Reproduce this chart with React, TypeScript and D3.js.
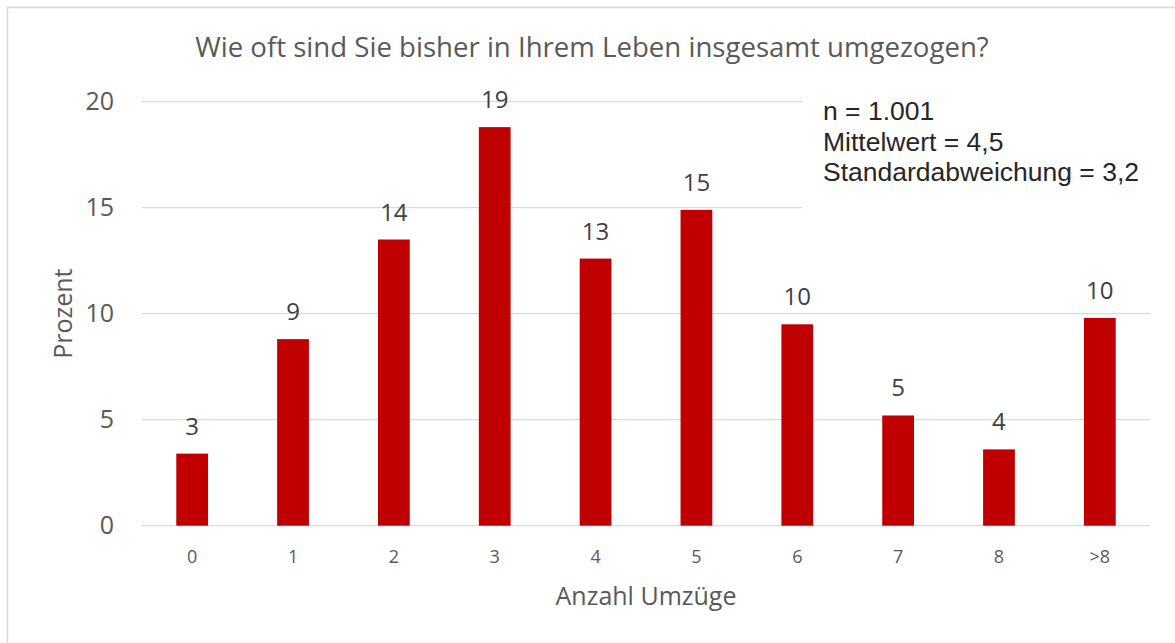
import * as d3 from "d3";
import { useEffect, useRef } from "react";

const categories = ["0", "1", "2", "3", "4", "5", "6", "7", "8", ">8"];
const percentValues = [3.4, 8.8, 13.5, 18.8, 12.6, 14.9, 9.5, 5.2, 3.6, 9.8];
const valueLabels = ["3", "9", "14", "19", "13", "15", "10", "5", "4", "10"];
const yTicks = [0, 5, 10, 15, 20];
const statsLines = ["n = 1.001", "Mittelwert = 4,5", "Standardabweichung = 3,2"];

export default function App() {
  const svgRef = useRef<SVGSVGElement>(null);
  const width = 1175;
  const height = 643;

  useEffect(() => {
    if (!svgRef.current) return;
    const svg = d3.select(svgRef.current);
    svg.selectAll("*").remove();

    const left = 142, right = 1150, top = 101.7, bottom = 525.7;
    const font = "Open Sans, Lato, sans-serif";

    const x = d3.scaleBand().domain(categories).range([left, right]).paddingInner(0.685).paddingOuter(0.34);
    const y = d3.scaleLinear().domain([0, 20]).range([bottom, top]);

    // chart frame (cropped on right/bottom)
    svg.append("rect")
      .attr("x", 7.5).attr("y", 7.5)
      .attr("width", 1200).attr("height", 700)
      .attr("fill", "white")
      .attr("stroke", "#d9d9d9")
      .attr("stroke-width", 1.5);

    // gridlines
    svg.append("g")
      .selectAll("line")
      .data(yTicks)
      .join("line")
      .attr("x1", left).attr("x2", right)
      .attr("y1", d => y(d)).attr("y2", d => y(d))
      .attr("stroke", "#d9d9d9")
      .attr("stroke-width", 1.3);

    // y tick labels
    svg.append("g")
      .selectAll("text")
      .data(yTicks)
      .join("text")
      .attr("x", 114)
      .attr("y", d => y(d))
      .attr("dy", "0.35em")
      .attr("text-anchor", "end")
      .attr("font-family", font)
      .attr("font-size", 25)
      .attr("fill", "#595959")
      .text(d => d);

    // bars
    svg.append("g")
      .selectAll("rect")
      .data(percentValues)
      .join("rect")
      .attr("x", (_, i) => x(categories[i])!)
      .attr("y", d => y(d))
      .attr("width", x.bandwidth())
      .attr("height", d => y(0) - y(d))
      .attr("fill", "#c00000");

    // value labels
    svg.append("g")
      .selectAll("text")
      .data(percentValues)
      .join("text")
      .attr("x", (_, i) => x(categories[i])! + x.bandwidth() / 2)
      .attr("y", d => y(d) - 19)
      .attr("text-anchor", "middle")
      .attr("font-family", font)
      .attr("font-size", 24)
      .attr("fill", "#404040")
      .text((_, i) => valueLabels[i]);

    // x tick labels
    svg.append("g")
      .selectAll("text")
      .data(categories)
      .join("text")
      .attr("x", d => x(d)! + x.bandwidth() / 2)
      .attr("y", 563)
      .attr("text-anchor", "middle")
      .attr("font-family", font)
      .attr("font-size", 18)
      .attr("fill", "#595959")
      .text(d => d);

    // title
    svg.append("text")
      .attr("x", 592).attr("y", 57)
      .attr("text-anchor", "middle")
      .attr("font-family", font)
      .attr("font-size", 27.6)
      .attr("fill", "#595959")
      .text("Wie oft sind Sie bisher in Ihrem Leben insgesamt umgezogen?");

    // axis titles
    svg.append("text")
      .attr("x", 646).attr("y", 605)
      .attr("text-anchor", "middle")
      .attr("font-family", font)
      .attr("font-size", 25)
      .attr("fill", "#595959")
      .text("Anzahl Umzüge");

    svg.append("text")
      .attr("transform", `translate(72,${(top + bottom) / 2}) rotate(-90)`)
      .attr("text-anchor", "middle")
      .attr("font-family", font)
      .attr("font-size", 25)
      .attr("fill", "#595959")
      .text("Prozent");

    // stats text box
    svg.append("rect")
      .attr("x", 802).attr("y", 88)
      .attr("width", 352).attr("height", 127)
      .attr("fill", "white");

    svg.append("g")
      .selectAll("text")
      .data(statsLines)
      .join("text")
      .attr("x", 823)
      .attr("y", (_, i) => 120 + i * 30.5)
      .attr("font-family", "Liberation Sans, Arial, sans-serif")
      .attr("font-size", 26.5)
      .attr("fill", "#262626")
      .text(d => d);
  }, []);

  return (
    <div style={{ position: "absolute", left: 0, top: 0 }}>
      <svg ref={svgRef} width={width} height={height} style={{ display: "block" }} />
    </div>
  );
}
